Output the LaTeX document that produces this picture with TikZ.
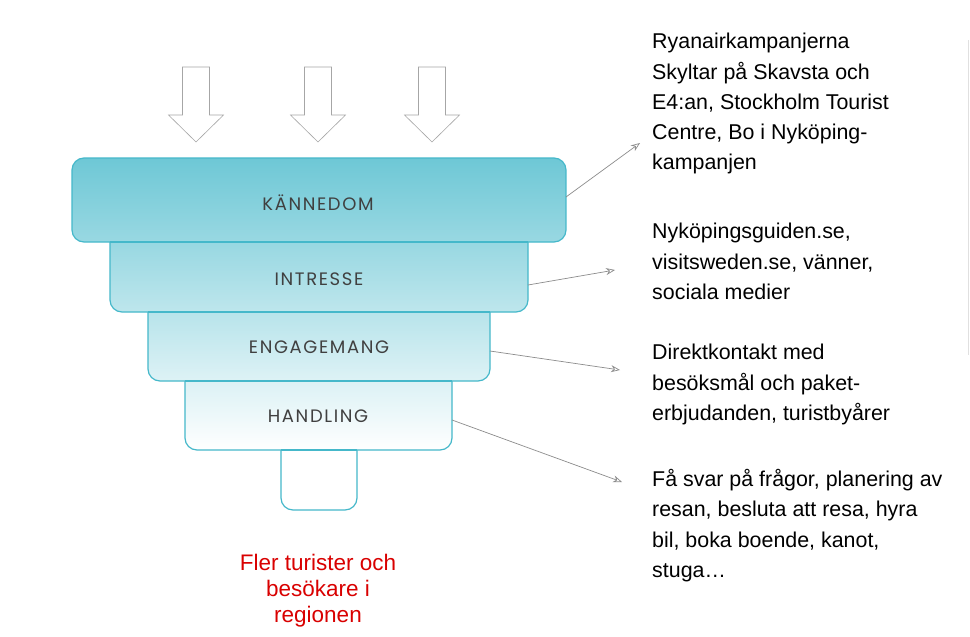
\documentclass[tikz,border=0pt]{standalone}
\usetikzlibrary{arrows.meta}
\usepackage{fontspec}
\setmainfont{Liberation Sans}
\newfontfamily\funfont[LetterSpace=9]{Poppins}
\begin{document}
\begin{tikzpicture}[x=1pt,y=-1pt,
  lvl/.style={draw=funnelline,line width=1.2pt,rounded corners=12pt},
  lab/.style={font=\funfont\fontsize{18}{20}\selectfont,text=black!75},
  dn/.style={draw=black!35,fill=white,line width=0.6pt},
  conn/.style={draw=black!45,line width=0.7pt,-{Stealth[length=9pt,width=7pt,open]}},
  desc/.style={anchor=north west,align=left,font=\fontsize{21.4}{30.3}\selectfont,inner sep=0pt}]
\definecolor{funnelline}{HTML}{45B8CA}
\useasboundingbox (0,0) rectangle (970,637);
\clip (0,0) rectangle (970,637);
\fill[white] (0,0) rectangle (970,637);
% arrows
\foreach \cx in {196,318,432}{
  \draw[dn] (\cx-13.5,67) -- (\cx+13.5,67) -- (\cx+13.5,115) -- (\cx+27.5,115) -- (\cx,142) -- (\cx-27.5,115) -- (\cx-13.5,115) -- cycle;
}
% funnel (bottom first)
\path[lvl,top color=white,bottom color=white] (281,430) rectangle (357,510);
\path[lvl,top color=funnelline!25,bottom color=white] (185,360) rectangle (452,450);
\node[lab] (h) at (318,416) {HANDLING};
\path[lvl,top color=funnelline!45,bottom color=funnelline!18] (148,290) rectangle (490,381);
\node[lab] (e) at (319,347) {ENGAGEMANG};
\path[lvl,top color=funnelline!62,bottom color=funnelline!35] (110,220) rectangle (528,312);
\node[lab] (i) at (319,279) {INTRESSE};
\path[lvl,top color=funnelline!78,bottom color=funnelline!55] (72,158) rectangle (566,242);
\node[lab] (k) at (318,203) {KÄNNEDOM};
\draw[funnelline,line width=1.2pt] (185,381) -- (452,381) (148,312)--(490,312) (110,242)--(528,242) (281,450)--(357,450);
% descriptions
\node[desc] (d1) at (652,33) {Ryanairkampanjerna\\Skyltar på Skavsta och\\E4:an, Stockholm Tourist\\Centre, Bo i Nyköping-\\kampanjen};
\node[desc] (d2) at (652,223) {Nyköpingsguiden.se,\\visitsweden.se, vänner,\\sociala medier};
\node[desc] (d3) at (652,344) {Direktkontakt med\\besöksmål och paket-\\erbjudanden, turistbyårer};
\node[desc] (d4) at (652,469) {Få svar på frågor, planering av\\resan, besluta att resa, hyra\\bil, boka boende, kanot,\\stuga…};
\coordinate (c1) at (640,143); \coordinate (c2) at (615,270);
\coordinate (c3) at (620,370); \coordinate (c4) at (622,482);
\coordinate (s1) at (566,197); \coordinate (s2) at (528,285);
\coordinate (s3) at (490,351); \coordinate (s4) at (452,420);
\draw[conn] (s1) -- (c1);
\draw[conn] (s2) -- (c2);
\draw[conn] (s3) -- (c3);
\draw[conn] (s4) -- (c4);
\node[align=center,text=red!85!black,font=\fontsize{22.5}{26}\selectfont] (r) at (318,591) {Fler turister och\\besökare i\\regionen};
\draw[black!12,line width=1pt] (968,40) -- (968,355);
\end{tikzpicture}
\end{document}
